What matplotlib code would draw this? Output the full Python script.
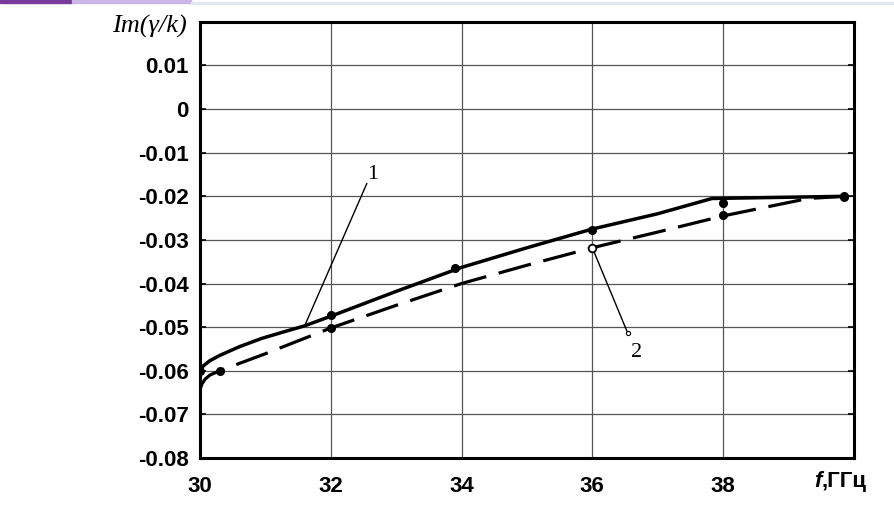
import matplotlib.pyplot as plt
from matplotlib.patches import Rectangle

# curve 1 (solid)
f1 = [30.0, 30.05, 30.15, 30.3, 30.6, 30.94, 31.3, 31.6, 32.0, 33.0, 34.0, 35.0, 36.0, 37.0, 37.83, 39.85]
im1 = [-0.0600, -0.0589, -0.0577, -0.0565, -0.0545, -0.0526, -0.0510, -0.0497, -0.0475, -0.0418, -0.0363, -0.0318, -0.0275, -0.0240, -0.0205, -0.0200]
dots1_f = [30.0, 32.0, 33.9, 36.0, 38.0, 39.85]
dots1_im = [-0.0600, -0.0472, -0.0365, -0.0277, -0.0215, -0.0201]

# curve 2 (dashed)
f2 = [30.0, 30.03, 30.08, 30.15, 30.3, 31.0, 32.0, 33.0, 34.0, 35.0, 36.0, 37.0, 38.0, 39.3, 39.85]
im2 = [-0.0643, -0.0630, -0.0619, -0.0610, -0.0600, -0.0561, -0.0502, -0.0450, -0.0400, -0.0358, -0.0318, -0.0282, -0.0245, -0.0205, -0.0200]
dots2_f = [30.3, 32.0, 38.0, 39.85]
dots2_im = [-0.0600, -0.0502, -0.0243, -0.0200]
open2_f = [36.0]
open2_im = [-0.0318]

xticks = [30, 32, 34, 36, 38]
yticks = [0.01, 0, -0.01, -0.02, -0.03, -0.04, -0.05, -0.06, -0.07, -0.08]
ylabels = ['0.01', '0', '-0.01', '-0.02', '-0.03', '-0.04', '-0.05', '-0.06', '-0.07', '-0.08']

fig = plt.figure(figsize=(8.95, 5.21), dpi=100)
ax = fig.add_axes([0.2235, 0.121, 0.7305, 0.837])

# purple strip at the top left (part of the scan)
fig.patches.append(Rectangle((0, 0.994), 0.08, 0.006, transform=fig.transFigure, color='#7a3a9a'))
fig.patches.append(Rectangle((0.08, 0.994), 0.133, 0.006, transform=fig.transFigure, color='#c9b6e6'))
fig.patches.append(Rectangle((0.213, 0.992), 0.787, 0.004, transform=fig.transFigure, color='#e3e8f0'))

ax.plot(f1, im1, color='black', lw=2.5, solid_joinstyle='round', zorder=3)
ax.plot(dots1_f, dots1_im, 'o', color='black', ms=5.5, zorder=4)
ax.plot(f2, im2, color='black', lw=2.3, dashes=(10.5, 4), zorder=3)
ax.plot(dots2_f, dots2_im, 'o', color='black', ms=5.5, zorder=4)
ax.plot(open2_f, open2_im, 'o', mfc='white', mec='black', mew=1.3, ms=5.5, zorder=5)

# leader lines with labels
ax.plot([32.55, 31.6], [-0.0171, -0.0497], color='black', lw=1.0, zorder=3)
ax.text(32.64, -0.0150, '1', fontsize=16, family='Liberation Serif', ha='center', va='center')
ax.plot([36.0, 36.54], [-0.0318, -0.0513], color='black', lw=1.0, zorder=3)
ax.plot([36.54], [-0.0513], 'o', mfc='white', mec='black', ms=3, mew=0.8, zorder=4)
ax.text(36.68, -0.0558, '2', fontsize=16, family='Liberation Serif', ha='center', va='center')

ax.set_xlim(30, 40)
ax.set_ylim(-0.08, 0.02)
ax.set_xticks(xticks)
ax.set_xticklabels([str(x) for x in xticks], fontsize=16, fontweight='bold', family='Liberation Sans')
ax.set_yticks(yticks)
ax.set_yticklabels(ylabels, fontsize=16, fontweight='bold', family='Liberation Sans')
ax.tick_params(axis='y', direction='in', length=4, width=1.2, right=True, pad=8)
ax.tick_params(axis='x', length=0, pad=13)
ax.grid(True, color='#555555', lw=0.9)
for s in ax.spines.values():
    s.set_linewidth(2.2)

# x axis name in place of the 40 tick
t1 = ax.text(39.4, -0.0855, 'f', fontsize=16, fontweight='bold', style='italic',
             family='Liberation Sans', ha='left', va='center')
ax.annotate(',ГГц', xy=(1, 0.5), xycoords=t1, va='center', ha='left', fontsize=16,
            fontweight='bold', family='Liberation Sans')

# y axis name above the tick labels
fig.text(0.209, 0.95, 'Im(γ/k)', fontsize=19, family='Liberation Serif', style='italic',
         ha='right', va='center')

fig.savefig('out.png', dpi=100)
